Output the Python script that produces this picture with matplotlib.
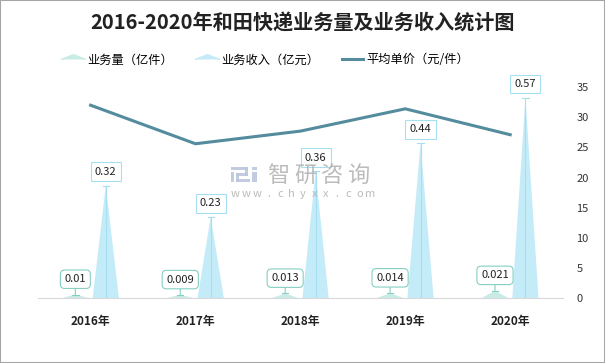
import numpy as np
import matplotlib
matplotlib.use("Agg")
import matplotlib.pyplot as plt
from matplotlib.lines import Line2D
from matplotlib.patches import Rectangle

plt.rcParams['font.family'] = ['Noto Sans CJK SC', 'DejaVu Sans']

# ===== data =====
years = ['2016年', '2017年', '2018年', '2019年', '2020年']
volume = [0.01, 0.009, 0.013, 0.014, 0.021]        # 业务量（亿件）
revenue = [0.32, 0.23, 0.36, 0.44, 0.57]           # 业务收入（亿元）
unit_price = [32.0, 25.6, 27.7, 31.4, 27.1]        # 平均单价（元/件）
vol_labels = ['0.01', '0.009', '0.013', '0.014', '0.021']
rev_labels = ['0.32', '0.23', '0.36', '0.44', '0.57']

c_vol = '#c9ebe6'
c_vol_edge = '#86cfc2'
c_rev = '#c4ebf8'
c_rev_edge = '#a6def2'
c_line = '#548c9e'
W, H = 605, 363

fig = plt.figure(figsize=(6.05, 3.63), dpi=100)
ax = fig.add_axes([0.063, 0.179, 0.867, 0.581])
ax2 = ax.twinx()

x = np.arange(len(years))
off = 0.145
hw = 0.125

for i in range(len(years)):
    xv = x[i] - off
    xr = x[i] + off
    ax.fill([xv - hw, xv, xv + hw], [0, volume[i], 0], color=c_vol, lw=0, zorder=2)
    ax.fill([xr - hw, xr, xr + hw], [0, revenue[i], 0], color=c_rev, lw=0, zorder=2)
    # leader lines
    ax.plot([xr, xr], [0, revenue[i]], color=c_rev_edge, lw=0.8, zorder=3)
    ax.plot([xr - 0.03, xr + 0.03], [revenue[i], revenue[i]], color=c_rev_edge, lw=0.8, zorder=3)
    ax.plot([xv - 0.03, xv + 0.03], [volume[i], volume[i]], color=c_vol_edge, lw=0.8, zorder=3)
    ax.annotate(rev_labels[i], (xr, revenue[i]), xytext=(0, 10), textcoords='offset points',
                ha='center', va='center', fontsize=8, color='#222222', zorder=5,
                bbox=dict(boxstyle='square,pad=0.38', fc='white', ec=c_rev_edge, lw=0.8))
    ax.annotate(vol_labels[i], (xv, volume[i]), xytext=(0, 11), textcoords='offset points',
                ha='center', va='center', fontsize=8, color='#222222', zorder=5,
                bbox=dict(boxstyle='round,pad=0.38', fc='white', ec=c_vol_edge, lw=0.8),
                arrowprops=dict(arrowstyle='-', color=c_vol_edge, lw=0.8, shrinkA=0, shrinkB=0))

ax.set_xlim(-0.5, len(years) - 0.5)
ax.set_ylim(0, 0.6)
ax.set_yticks([])
ax.set_xticks(x)
ax.set_xticklabels(years, fontsize=8.5, fontweight='bold', color='#222222')
ax.tick_params(axis='x', length=0, pad=12)
for s in ['top', 'right', 'left']:
    ax.spines[s].set_visible(False)
ax.spines['bottom'].set_color('#d9d9d9')

ax2.plot(x, unit_price, color=c_line, lw=2.2, zorder=4)
ax2.set_ylim(0, 35)
ax2.set_yticks(range(0, 36, 5))
ax2.tick_params(axis='y', length=0, labelsize=8, labelcolor='#333333', pad=10)
for s in ['top', 'right', 'left', 'bottom']:
    ax2.spines[s].set_visible(False)

# watermark
wm = '#b0b0b0'
for k, ch in enumerate('智研咨询'):
    fig.text((278 + 27 * k) / W, 1 - 175 / H, ch, fontsize=16, color=wm, alpha=0.85,
             ha='center', va='center', zorder=1)
for k, ch in enumerate('www.chyxx.com'):
    fig.text((235 + 11.3 * k) / W, 1 - 194 / H, ch, fontsize=8, color=wm, alpha=0.85,
             ha='center', va='center', zorder=1)
logo = [(231, 167, 17, 3), (245, 167, 3, 9), (236, 173, 12, 3), (236, 173, 3, 9),
        (236, 179, 14, 3), (231, 172, 3, 10), (252, 167, 5, 3), (252, 172, 5, 10)]
for lx, ly, lw_, lh in logo:
    fig.patches.append(Rectangle((lx / W, 1 - (ly + lh) / H), lw_ / W, lh / H,
                                 transform=fig.transFigure, fc='#bcc6dc', ec='none', alpha=0.9))

fig.suptitle('2016-2020年和田快递业务量及业务收入统计图', fontsize=14.5, fontweight='bold',
             color='#222222', y=0.965)

tri = [(-2.6, 0), (0, 1), (2.6, 0)]
handles = [Line2D([], [], marker=tri, ls='none', markersize=18, color=c_vol),
           Line2D([], [], marker=tri, ls='none', markersize=18, color=c_rev),
           Line2D([], [], color=c_line, lw=2.2)]
fig.legend(handles, ['业务量（亿件）', '业务收入（亿元）', '平均单价（元/件）'], ncol=3,
           loc='center', bbox_to_anchor=(0.44, 0.835), frameon=False, fontsize=8.8,
           handlelength=1.7, columnspacing=1.9, handletextpad=0.3)

fig.patches.append(Rectangle((0, 0), 1, 1, transform=fig.transFigure, fill=False,
                             ec='#a6a6a6', lw=1.5))

fig.savefig('out.png', dpi=100)
